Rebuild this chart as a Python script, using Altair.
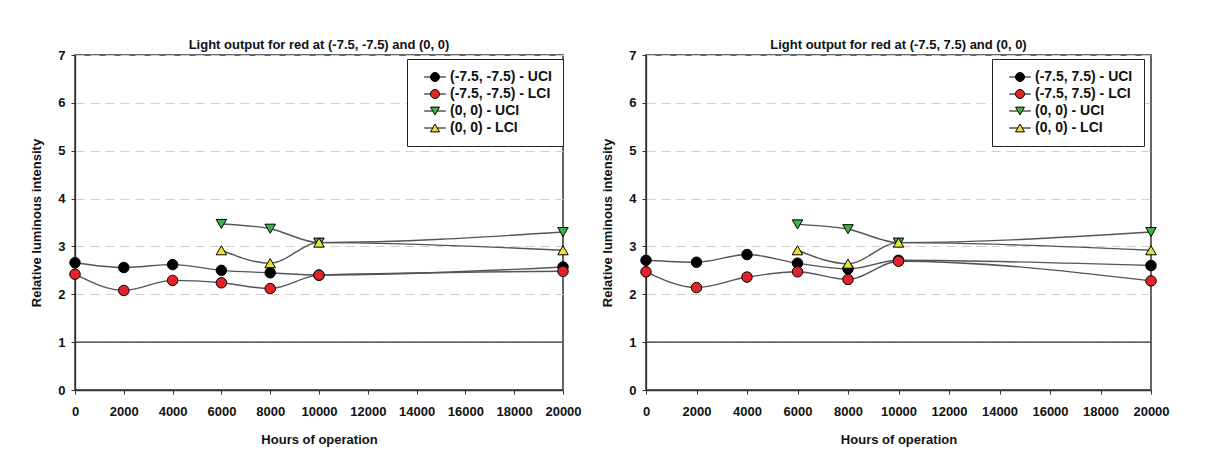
import altair as alt
import pandas as pd

# ---- data ----
hours = [0, 2000, 4000, 6000, 8000, 10000, 20000]
hours_center = [6000, 8000, 10000, 20000]

# left panel: (-7.5, -7.5) and (0, 0)
left_corner_uci = [2.66, 2.56, 2.62, 2.50, 2.45, 2.40, 2.57]
left_corner_lci = [2.42, 2.08, 2.29, 2.24, 2.12, 2.40, 2.48]
left_center_uci = [3.47, 3.37, 3.08, 3.30]
left_center_lci = [2.92, 2.65, 3.08, 2.92]

# right panel: (-7.5, 7.5) and (0, 0)
right_corner_uci = [2.71, 2.67, 2.83, 2.65, 2.53, 2.71, 2.60]
right_corner_lci = [2.47, 2.14, 2.36, 2.47, 2.31, 2.69, 2.28]
right_center_uci = [3.46, 3.36, 3.08, 3.30]
right_center_lci = [2.92, 2.64, 3.08, 2.92]

left_labels = ["(-7.5, -7.5) - UCI", "(-7.5, -7.5) - LCI", "(0, 0) - UCI", "(0, 0) - LCI"]
right_labels = ["(-7.5, 7.5) - UCI", "(-7.5, 7.5) - LCI", "(0, 0) - UCI", "(0, 0) - LCI"]
titles = ["Light output for red at (-7.5, -7.5) and (0, 0)",
          "Light output for red at (-7.5, 7.5) and (0, 0)"]

x_ticks = [0, 2000, 4000, 6000, 8000, 10000, 12000, 14000, 16000, 18000, 20000]
y_ticks = [0, 1, 2, 3, 4, 5, 6, 7]
ref_line = [1]

colors = ["#000000", "#e3232a", "#3cb44a", "#e6e23a"]
shapes = ["circle", "circle", "triangle-down", "triangle-up"]
legend_shapes = [
    "M-2.4,0H-1M1,0H2.4M1,0A1,1 0 1,1 -1,0A1,1 0 1,1 1,0Z",
    "M-2.4,0H-1M1,0H2.4M1,0A1,1 0 1,1 -1,0A1,1 0 1,1 1,0Z",
    "M-2.4,0H-0.5M0.5,0H2.4M0,0.866L-1,-0.866L1,-0.866Z",
    "M-2.4,0H-0.5M0.5,0H2.4M0,-0.866L-1,0.866L1,0.866Z",
]

FONT = "Liberation Sans"


def make_df(labels, cu, cl, zu, zl):
    rows = []
    for xs, vals, lab in [(hours, cu, labels[0]), (hours, cl, labels[1]),
                          (hours_center, zu, labels[2]), (hours_center, zl, labels[3])]:
        for h, v in zip(xs, vals):
            rows.append({"hours": h, "value": v, "series": lab})
    return pd.DataFrame(rows)


def panel(df, labels, title, width, legend_x):
    x = alt.X("hours:Q", scale=alt.Scale(domain=[0, 20000], nice=False),
              axis=alt.Axis(values=x_ticks, format="d", title="Hours of operation",
                            grid=False, labelPadding=11, titlePadding=15, labelFlush=False))
    y = alt.Y("value:Q", scale=alt.Scale(domain=[0, 7], nice=False),
              axis=alt.Axis(values=y_ticks, title="Relative luminous intensity",
                            grid=True, gridDash=[9, 6], gridColor="#cfcfcf",
                            labelPadding=6, titlePadding=14))
    base = alt.Chart(df)
    lines = base.mark_line(interpolate="monotone", color="#555555", strokeWidth=1.4).encode(
        x=x, y=y, detail="series:N")
    rule = alt.Chart(pd.DataFrame({"value": ref_line})).mark_rule(
        color="#333333", strokeWidth=1.3).encode(y=alt.Y("value:Q"))
    pts = base.mark_point(filled=True, stroke="black", strokeWidth=1, size=110, opacity=1).encode(
        x=x, y=y,
        color=alt.Color("series:N", scale=alt.Scale(domain=labels, range=colors), legend=None),
        shape=alt.Shape("series:N", scale=alt.Scale(domain=labels, range=shapes), legend=None),
        order=alt.Order("o:Q"),
    ).transform_calculate(o="indexof(%s, datum.series)" % str(labels))
    leg = alt.Legend(title=None, orient="none", legendX=legend_x, legendY=4,
                     strokeColor="#222222", fillColor="white", padding=11,
                     symbolOffset=10, labelOffset=8, rowPadding=3, symbolSize=81,
                     symbolStrokeColor="black", symbolStrokeWidth=1,
                     labelFont=FONT, labelFontSize=14, labelFontWeight="bold",
                     labelColor="#111111")
    legend_layer = base.transform_filter("false").mark_point(
        filled=True, stroke="black", strokeWidth=1, size=81, opacity=1).encode(
        x=x, y=y,
        color=alt.Color("series:N", scale=alt.Scale(domain=labels, range=colors), legend=leg),
        shape=alt.Shape("series:N", scale=alt.Scale(domain=labels, range=legend_shapes), legend=leg),
    )
    return alt.layer(lines, rule, pts, legend_layer).resolve_scale(
        color="independent", shape="independent").properties(
        width=width, height=335,
        title=alt.TitleParams(title, font=FONT, fontSize=13, fontWeight="bold",
                              anchor="middle", frame="group", offset=-3, color="#111111"))


left = panel(make_df(left_labels, left_corner_uci, left_corner_lci, left_center_uci, left_center_lci),
             left_labels, titles[0], 488, 332)
right = panel(make_df(right_labels, right_corner_uci, right_corner_lci, right_center_uci, right_center_lci),
              right_labels, titles[1], 505, 346)

chart = alt.hconcat(left, right, spacing=83, bounds="flush").resolve_scale(
    color="independent", shape="independent", x="independent", y="independent"
).properties(
    padding={"left": 22, "top": 30, "right": 5, "bottom": 5},
    background="white",
).configure_view(
    stroke="#333333", strokeWidth=1.5
).configure_axis(
    labelFont=FONT, titleFont=FONT, labelFontSize=13, titleFontSize=13,
    labelFontWeight="bold", titleFontWeight="bold", labelColor="#111111", titleColor="#111111",
    domainColor="#333333", tickColor="#333333", tickSize=4, domainWidth=1.3
)

chart.save("out.html", embed_options={"renderer": "svg", "actions": False})
